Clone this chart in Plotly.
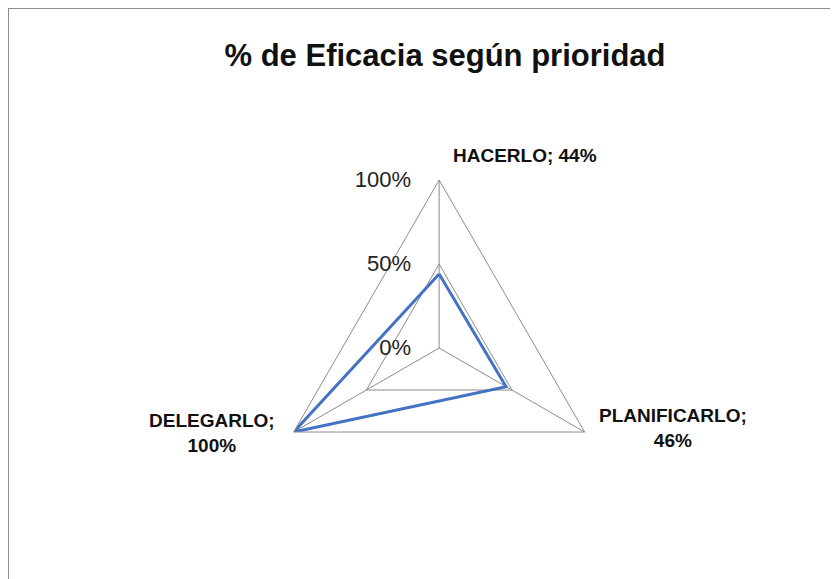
import math
import plotly.graph_objects as go

categories = ["HACERLO", "PLANIFICARLO", "DELEGARLO"]
values = [0.44, 0.46, 1.00]
radial_ticks = [0, 0.5, 1.0]
radial_ticklabels = ["0%", "50%", "100%"]
label_breaks = [" ", "<br>", "<br>"]

title_text = "% de Eficacia según prioridad"

labels = [f"<b>{c};{b}{round(v * 100)}%</b>" for c, v, b in zip(categories, values, label_breaks)]

FONT = "Liberation Sans, Arial, sans-serif"
GRID = "#8c8c8c"
W, H = 838, 579
DOM_X = [0.3140, 0.7150]
DOM_Y = [0.1226, 0.7029]

fig = go.Figure()
fig.add_trace(go.Scatterpolar(
    r=values + values[:1],
    theta=categories + categories[:1],
    mode="lines",
    line=dict(color="#4472C4", width=3),
    hoverinfo="skip",
    showlegend=False,
))

# category labels at the outer vertices (positions derived from polar domain geometry)
cx = (DOM_X[0] + DOM_X[1]) / 2
cy = (DOM_Y[0] + DOM_Y[1]) / 2
R = min((DOM_X[1] - DOM_X[0]) * W, (DOM_Y[1] - DOM_Y[0]) * H) / 2
label_style = [
    dict(xanchor="left", yanchor="middle", xshift=12, yshift=25),
    dict(xanchor="left", yanchor="middle", xshift=12, yshift=4),
    dict(xanchor="right", yanchor="middle", xshift=-17, yshift=-1),
]
annotations = []
for i, (lab, st) in enumerate(zip(labels, label_style)):
    ang = math.radians(90 - 360 * i / len(categories))
    annotations.append(dict(
        x=cx + R * math.cos(ang) / W,
        y=cy + R * math.sin(ang) / H,
        xref="paper", yref="paper",
        text=lab, showarrow=False, align="center",
        font=dict(family=FONT, size=19, color="#111111"),
        **st,
    ))

fig.update_layout(
    width=W, height=H,
    margin=dict(l=0, r=0, t=0, b=0),
    paper_bgcolor="white",
    plot_bgcolor="white",
    title=dict(
        text=f"<b>{title_text}</b>",
        font=dict(family=FONT, size=31, color="#111111"),
        x=0.5215, xanchor="center", xref="paper",
        y=0.9188, yanchor="middle",
    ),
    annotations=annotations,
    polar=dict(
        domain=dict(x=DOM_X, y=DOM_Y),
        bgcolor="white",
        gridshape="linear",
        angularaxis=dict(
            direction="clockwise",
            rotation=90,
            showticklabels=False,
            ticks="",
            showline=True,
            linecolor=GRID,
            linewidth=1,
            showgrid=True,
            gridcolor=GRID,
            gridwidth=1,
        ),
        radialaxis=dict(
            range=[0, 1],
            angle=90,
            tickangle=90,
            side="counterclockwise",
            tickvals=radial_ticks,
            ticktext=radial_ticklabels,
            tickfont=dict(family=FONT, size=22, color="#222222"),
            showline=False,
            ticks="outside",
            ticklen=20,
            tickcolor="rgba(0,0,0,0)",
            showgrid=True,
            gridcolor=GRID,
            gridwidth=1,
        ),
    ),
    shapes=[dict(
        type="rect", xref="paper", yref="paper",
        x0=0, x1=1.2, y0=-0.2, y1=1,
        line=dict(color="#8c8c8c", width=2),
        fillcolor="rgba(0,0,0,0)",
        layer="above",
    )],
)

fig.write_html("out.html")
